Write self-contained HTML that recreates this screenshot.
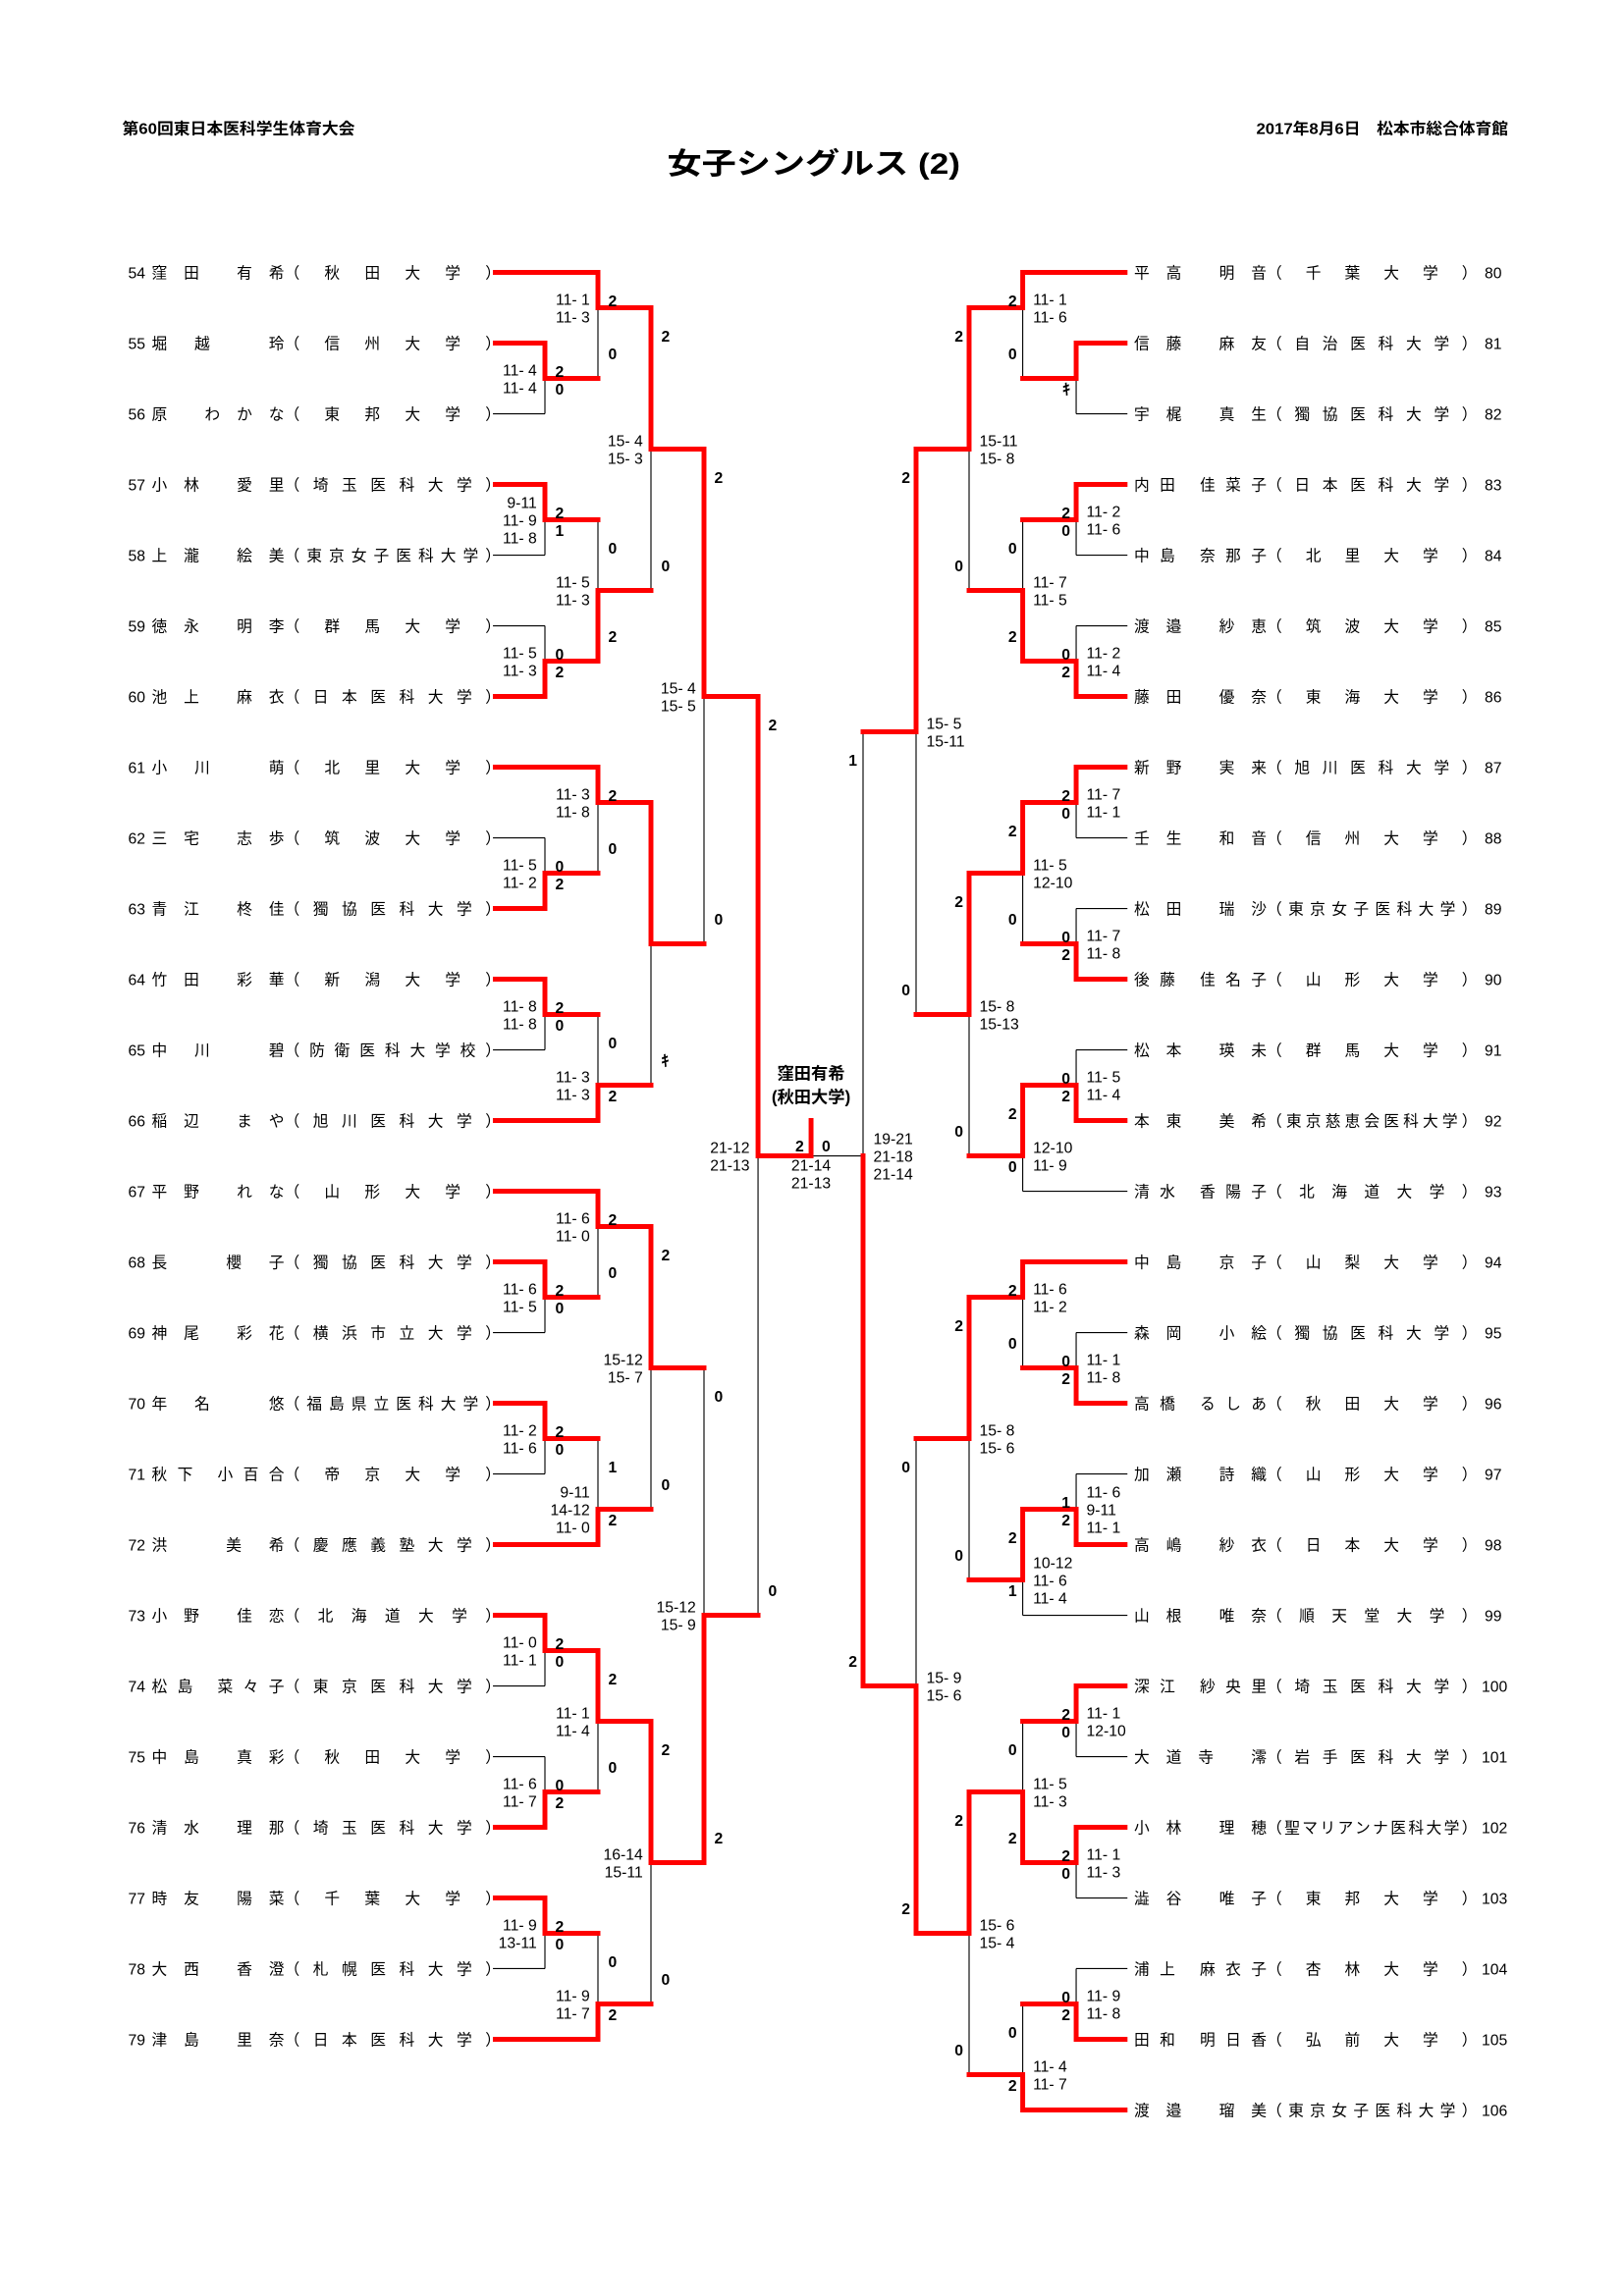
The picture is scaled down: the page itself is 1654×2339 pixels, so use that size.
<!DOCTYPE html>
<html><head><meta charset="utf-8">
<style>
html,body{margin:0;padding:0;background:#fff;}
svg{display:block;}
.n{font-family:"Liberation Sans","Noto Sans CJK JP",sans-serif;font-size:10.5px;fill:#000;}
.s{font-family:"Liberation Sans Narrow","Liberation Sans",sans-serif;font-size:10.5px;fill:#000;}
.c{font-family:"Liberation Sans Narrow","Liberation Sans",sans-serif;font-size:10.5px;font-weight:bold;fill:#000;}
.h{font-family:"Liberation Sans","Noto Sans CJK JP",sans-serif;font-weight:bold;fill:#000;}
.e{text-anchor:end;}
.m{text-anchor:middle;}
</style></head><body>
<svg width="1654" height="2339" viewBox="0 0 1102.67 1559.33" xmlns="http://www.w3.org/2000/svg">
<rect x="0" y="0" width="1102.67" height="1559.33" fill="#fff"/>
<text class="h" x="83" y="91" font-size="10.5" textLength="158" lengthAdjust="spacingAndGlyphs">第60回東日本医科学生体育大会</text>
<text class="h" x="853" y="91" font-size="10.5" textLength="171" lengthAdjust="spacingAndGlyphs">2017年8月6日　松本市総合体育館</text>
<text class="h" x="453" y="118" font-size="20" textLength="199" lengthAdjust="spacingAndGlyphs">女子シングルス (2)</text>

<!-- black lines -->
<path fill="none" stroke="#000" stroke-width="0.75" d="
M334.7 281H370M334.7 377H370M334.7 425H370M334.7 569H370M334.7 713H370M334.7 905H370M334.7 1001H370M334.7 1145H370M334.7 1193H370M334.7 1337H370
M370 257V281M406 209V257M370 353V377M370 425V449M406 353V401M442 305V401M370 569V593M406 545V593M370 689V713M406 689V737M442 641V737M478 473V641
M370 881V905M406 833V881M370 977V1001M406 977V1025M442 929V1025M370 1121V1145M370 1193V1217M406 1169V1217M370 1313V1337M406 1313V1361M442 1265V1361M478 929V1097M514.7 785V1097
M550.7 785H586
M765.5 281H730.7M765.5 377H730.7M765.5 425H730.7M765.5 569H730.7M765.5 617H730.7M765.5 713H730.7M765.5 809H694.4M765.5 905H730.7M765.5 1001H730.7M765.5 1097H694.4M765.5 1193H730.7M765.5 1289H730.7M765.5 1337H730.7
M730.7 257V281M694.4 209V257M730.7 353V377M730.7 425V449M694.4 353V401M658 305V401M730.7 545V569M730.7 617V641M694.4 593V641M730.7 713V737M694.4 785V809M658 689V785M622 497V689
M730.7 905V929M694.4 881V929M730.7 1001V1025M694.4 1073V1097M658 977V1073M730.7 1169V1193M730.7 1265V1289M694.4 1169V1217M730.7 1337V1361M694.4 1361V1409M658 1313V1409M622 977V1145M586 497V785
"/>

<!-- red lines -->
<path fill="none" stroke="#ff0000" stroke-width="3.3" stroke-linecap="square" stroke-linejoin="miter" d="
M336.3 185H406M336.3 233H370M336.3 329H370M336.3 473H370M336.3 521H406M336.3 617H370M336.3 665H370M336.3 761H406M336.3 809H406M336.3 857H370M336.3 953H370M336.3 1049H406M336.3 1097H370M336.3 1241H370M336.3 1289H370M336.3 1385H406
M370 233V257H406M406 185V209H442M370 329V353H406M370 473V449H406M406 449V401H442M442 209V305H478M370 617V593H406M406 521V545H442M370 665V689H406M406 761V737H442M442 545V641H478M478 305V473H514.7
M370 857V881H406M406 809V833H442M370 953V977H406M406 1049V1025H442M442 833V929H478M370 1097V1121H406M370 1241V1217H406M406 1121V1169H442M370 1289V1313H406M406 1385V1361H442M442 1169V1265H478M478 1265V1097H514.7
M514.7 473V785H550.7V761
M763.9 185H694.4M763.9 233H730.7M763.9 329H730.7M763.9 473H730.7M763.9 521H730.7M763.9 665H730.7M763.9 761H730.7M763.9 857H694.4M763.9 953H730.7M763.9 1049H730.7M763.9 1145H730.7M763.9 1241H730.7M763.9 1385H730.7M763.9 1433H694.4
M730.7 233V257H694.4M694.4 185V209H658M730.7 329V353H694.4M730.7 473V449H694.4M694.4 449V401H658M658 209V305H622M730.7 521V545H694.4M730.7 665V641H694.4M694.4 545V593H658M730.7 761V737H694.4M694.4 737V785H658M658 593V689H622M622 305V497H586
M730.7 953V929H694.4M694.4 857V881H658M730.7 1049V1025H694.4M694.4 1025V1073H658M658 881V977H622M730.7 1145V1169H694.4M730.7 1241V1265H694.4M694.4 1265V1217H658M730.7 1385V1361H694.4M694.4 1433V1409H658M658 1217V1313H622M622 1313V1145H586M586 1145V785
"/>

<!-- left names -->
<g class="n">
<text x="87" y="189">54</text><text x="103" y="189" textLength="90" lengthAdjust="spacing">窪田 有希</text><text x="193" y="189" textLength="147" lengthAdjust="spacing">（秋田大学）</text>
<text x="87" y="237">55</text><text x="103" y="237" textLength="90" lengthAdjust="spacing">堀越 玲</text><text x="193" y="237" textLength="147" lengthAdjust="spacing">（信州大学）</text>
<text x="87" y="285">56</text><text x="103" y="285" textLength="90" lengthAdjust="spacing">原 わかな</text><text x="193" y="285" textLength="147" lengthAdjust="spacing">（東邦大学）</text>
<text x="87" y="333">57</text><text x="103" y="333" textLength="90" lengthAdjust="spacing">小林 愛里</text><text x="193" y="333" textLength="147" lengthAdjust="spacing">（埼玉医科大学）</text>
<text x="87" y="381">58</text><text x="103" y="381" textLength="90" lengthAdjust="spacing">上瀧 絵美</text><text x="193" y="381" textLength="147" lengthAdjust="spacing">（東京女子医科大学）</text>
<text x="87" y="429">59</text><text x="103" y="429" textLength="90" lengthAdjust="spacing">徳永 明李</text><text x="193" y="429" textLength="147" lengthAdjust="spacing">（群馬大学）</text>
<text x="87" y="477">60</text><text x="103" y="477" textLength="90" lengthAdjust="spacing">池上 麻衣</text><text x="193" y="477" textLength="147" lengthAdjust="spacing">（日本医科大学）</text>
<text x="87" y="525">61</text><text x="103" y="525" textLength="90" lengthAdjust="spacing">小川 萌</text><text x="193" y="525" textLength="147" lengthAdjust="spacing">（北里大学）</text>
<text x="87" y="573">62</text><text x="103" y="573" textLength="90" lengthAdjust="spacing">三宅 志歩</text><text x="193" y="573" textLength="147" lengthAdjust="spacing">（筑波大学）</text>
<text x="87" y="621">63</text><text x="103" y="621" textLength="90" lengthAdjust="spacing">青江 柊佳</text><text x="193" y="621" textLength="147" lengthAdjust="spacing">（獨協医科大学）</text>
<text x="87" y="669">64</text><text x="103" y="669" textLength="90" lengthAdjust="spacing">竹田 彩華</text><text x="193" y="669" textLength="147" lengthAdjust="spacing">（新潟大学）</text>
<text x="87" y="717">65</text><text x="103" y="717" textLength="90" lengthAdjust="spacing">中川 碧</text><text x="193" y="717" textLength="147" lengthAdjust="spacing">（防衛医科大学校）</text>
<text x="87" y="765">66</text><text x="103" y="765" textLength="90" lengthAdjust="spacing">稲辺 まや</text><text x="193" y="765" textLength="147" lengthAdjust="spacing">（旭川医科大学）</text>
<text x="87" y="813">67</text><text x="103" y="813" textLength="90" lengthAdjust="spacing">平野 れな</text><text x="193" y="813" textLength="147" lengthAdjust="spacing">（山形大学）</text>
<text x="87" y="861">68</text><text x="103" y="861" textLength="90" lengthAdjust="spacing">長 櫻子</text><text x="193" y="861" textLength="147" lengthAdjust="spacing">（獨協医科大学）</text>
<text x="87" y="909">69</text><text x="103" y="909" textLength="90" lengthAdjust="spacing">神尾 彩花</text><text x="193" y="909" textLength="147" lengthAdjust="spacing">（横浜市立大学）</text>
<text x="87" y="957">70</text><text x="103" y="957" textLength="90" lengthAdjust="spacing">年名 悠</text><text x="193" y="957" textLength="147" lengthAdjust="spacing">（福島県立医科大学）</text>
<text x="87" y="1005">71</text><text x="103" y="1005" textLength="90" lengthAdjust="spacing">秋下 小百合</text><text x="193" y="1005" textLength="147" lengthAdjust="spacing">（帝京大学）</text>
<text x="87" y="1053">72</text><text x="103" y="1053" textLength="90" lengthAdjust="spacing">洪 美希</text><text x="193" y="1053" textLength="147" lengthAdjust="spacing">（慶應義塾大学）</text>
<text x="87" y="1101">73</text><text x="103" y="1101" textLength="90" lengthAdjust="spacing">小野 佳恋</text><text x="193" y="1101" textLength="147" lengthAdjust="spacing">（北海道大学）</text>
<text x="87" y="1149">74</text><text x="103" y="1149" textLength="90" lengthAdjust="spacing">松島 菜々子</text><text x="193" y="1149" textLength="147" lengthAdjust="spacing">（東京医科大学）</text>
<text x="87" y="1197">75</text><text x="103" y="1197" textLength="90" lengthAdjust="spacing">中島 真彩</text><text x="193" y="1197" textLength="147" lengthAdjust="spacing">（秋田大学）</text>
<text x="87" y="1245">76</text><text x="103" y="1245" textLength="90" lengthAdjust="spacing">清水 理那</text><text x="193" y="1245" textLength="147" lengthAdjust="spacing">（埼玉医科大学）</text>
<text x="87" y="1293">77</text><text x="103" y="1293" textLength="90" lengthAdjust="spacing">時友 陽菜</text><text x="193" y="1293" textLength="147" lengthAdjust="spacing">（千葉大学）</text>
<text x="87" y="1341">78</text><text x="103" y="1341" textLength="90" lengthAdjust="spacing">大西 香澄</text><text x="193" y="1341" textLength="147" lengthAdjust="spacing">（札幌医科大学）</text>
<text x="87" y="1389">79</text><text x="103" y="1389" textLength="90" lengthAdjust="spacing">津島 里奈</text><text x="193" y="1389" textLength="147" lengthAdjust="spacing">（日本医科大学）</text>
</g>

<!-- right names -->
<g class="n">
<text x="770" y="189" textLength="90" lengthAdjust="spacing">平高 明音</text><text x="860" y="189" textLength="143" lengthAdjust="spacing">（千葉大学）</text><text x="1008" y="189">80</text>
<text x="770" y="237" textLength="90" lengthAdjust="spacing">信藤 麻友</text><text x="860" y="237" textLength="143" lengthAdjust="spacing">（自治医科大学）</text><text x="1008" y="237">81</text>
<text x="770" y="285" textLength="90" lengthAdjust="spacing">宇梶 真生</text><text x="860" y="285" textLength="143" lengthAdjust="spacing">（獨協医科大学）</text><text x="1008" y="285">82</text>
<text x="770" y="333" textLength="90" lengthAdjust="spacing">内田 佳菜子</text><text x="860" y="333" textLength="143" lengthAdjust="spacing">（日本医科大学）</text><text x="1008" y="333">83</text>
<text x="770" y="381" textLength="90" lengthAdjust="spacing">中島 奈那子</text><text x="860" y="381" textLength="143" lengthAdjust="spacing">（北里大学）</text><text x="1008" y="381">84</text>
<text x="770" y="429" textLength="90" lengthAdjust="spacing">渡邉 紗恵</text><text x="860" y="429" textLength="143" lengthAdjust="spacing">（筑波大学）</text><text x="1008" y="429">85</text>
<text x="770" y="477" textLength="90" lengthAdjust="spacing">藤田 優奈</text><text x="860" y="477" textLength="143" lengthAdjust="spacing">（東海大学）</text><text x="1008" y="477">86</text>
<text x="770" y="525" textLength="90" lengthAdjust="spacing">新野 実来</text><text x="860" y="525" textLength="143" lengthAdjust="spacing">（旭川医科大学）</text><text x="1008" y="525">87</text>
<text x="770" y="573" textLength="90" lengthAdjust="spacing">壬生 和音</text><text x="860" y="573" textLength="143" lengthAdjust="spacing">（信州大学）</text><text x="1008" y="573">88</text>
<text x="770" y="621" textLength="90" lengthAdjust="spacing">松田 瑞沙</text><text x="860" y="621" textLength="143" lengthAdjust="spacing">（東京女子医科大学）</text><text x="1008" y="621">89</text>
<text x="770" y="669" textLength="90" lengthAdjust="spacing">後藤 佳名子</text><text x="860" y="669" textLength="143" lengthAdjust="spacing">（山形大学）</text><text x="1008" y="669">90</text>
<text x="770" y="717" textLength="90" lengthAdjust="spacing">松本 瑛未</text><text x="860" y="717" textLength="143" lengthAdjust="spacing">（群馬大学）</text><text x="1008" y="717">91</text>
<text x="770" y="765" textLength="90" lengthAdjust="spacing">本東 美希</text><text x="860" y="765" textLength="143" lengthAdjust="spacing">（東京慈恵会医科大学）</text><text x="1008" y="765">92</text>
<text x="770" y="813" textLength="90" lengthAdjust="spacing">清水 香陽子</text><text x="860" y="813" textLength="143" lengthAdjust="spacing">（北海道大学）</text><text x="1008" y="813">93</text>
<text x="770" y="861" textLength="90" lengthAdjust="spacing">中島 京子</text><text x="860" y="861" textLength="143" lengthAdjust="spacing">（山梨大学）</text><text x="1008" y="861">94</text>
<text x="770" y="909" textLength="90" lengthAdjust="spacing">森岡 小絵</text><text x="860" y="909" textLength="143" lengthAdjust="spacing">（獨協医科大学）</text><text x="1008" y="909">95</text>
<text x="770" y="957" textLength="90" lengthAdjust="spacing">高橋 るしあ</text><text x="860" y="957" textLength="143" lengthAdjust="spacing">（秋田大学）</text><text x="1008" y="957">96</text>
<text x="770" y="1005" textLength="90" lengthAdjust="spacing">加瀬 詩織</text><text x="860" y="1005" textLength="143" lengthAdjust="spacing">（山形大学）</text><text x="1008" y="1005">97</text>
<text x="770" y="1053" textLength="90" lengthAdjust="spacing">高嶋 紗衣</text><text x="860" y="1053" textLength="143" lengthAdjust="spacing">（日本大学）</text><text x="1008" y="1053">98</text>
<text x="770" y="1101" textLength="90" lengthAdjust="spacing">山根 唯奈</text><text x="860" y="1101" textLength="143" lengthAdjust="spacing">（順天堂大学）</text><text x="1008" y="1101">99</text>
<text x="770" y="1149" textLength="90" lengthAdjust="spacing">深江 紗央里</text><text x="860" y="1149" textLength="143" lengthAdjust="spacing">（埼玉医科大学）</text><text x="1006" y="1149">100</text>
<text x="770" y="1197" textLength="90" lengthAdjust="spacing">大道寺 澪</text><text x="860" y="1197" textLength="143" lengthAdjust="spacing">（岩手医科大学）</text><text x="1006" y="1197">101</text>
<text x="770" y="1245" textLength="90" lengthAdjust="spacing">小林 理穂</text><text x="860" y="1245" textLength="143" lengthAdjust="spacing">（聖マリアンナ医科大学）</text><text x="1006" y="1245">102</text>
<text x="770" y="1293" textLength="90" lengthAdjust="spacing">澁谷 唯子</text><text x="860" y="1293" textLength="143" lengthAdjust="spacing">（東邦大学）</text><text x="1006" y="1293">103</text>
<text x="770" y="1341" textLength="90" lengthAdjust="spacing">浦上 麻衣子</text><text x="860" y="1341" textLength="143" lengthAdjust="spacing">（杏林大学）</text><text x="1006" y="1341">104</text>
<text x="770" y="1389" textLength="90" lengthAdjust="spacing">田和 明日香</text><text x="860" y="1389" textLength="143" lengthAdjust="spacing">（弘前大学）</text><text x="1006" y="1389">105</text>
<text x="770" y="1437" textLength="90" lengthAdjust="spacing">渡邉 瑠美</text><text x="860" y="1437" textLength="143" lengthAdjust="spacing">（東京女子医科大学）</text><text x="1006" y="1437">106</text>
</g>

<!-- left game scores -->
<g class="s e">
<text x="364.5" y="255">11- 4</text><text x="364.5" y="267">11- 4</text>
<text x="400.5" y="207">11- 1</text><text x="400.5" y="219">11- 3</text>
<text x="364.5" y="345">9-11</text><text x="364.5" y="357">11- 9</text><text x="364.5" y="369">11- 8</text>
<text x="364.5" y="447">11- 5</text><text x="364.5" y="459">11- 3</text>
<text x="400.5" y="399">11- 5</text><text x="400.5" y="411">11- 3</text>
<text x="436.5" y="303">15- 4</text><text x="436.5" y="315">15- 3</text>
<text x="364.5" y="591">11- 5</text><text x="364.5" y="603">11- 2</text>
<text x="400.5" y="543">11- 3</text><text x="400.5" y="555">11- 8</text>
<text x="364.5" y="687">11- 8</text><text x="364.5" y="699">11- 8</text>
<text x="400.5" y="735">11- 3</text><text x="400.5" y="747">11- 3</text>
<text x="472.5" y="471">15- 4</text><text x="472.5" y="483">15- 5</text>
<text x="364.5" y="879">11- 6</text><text x="364.5" y="891">11- 5</text>
<text x="400.5" y="831">11- 6</text><text x="400.5" y="843">11- 0</text>
<text x="364.5" y="975">11- 2</text><text x="364.5" y="987">11- 6</text>
<text x="400.5" y="1017">9-11</text><text x="400.5" y="1029">14-12</text><text x="400.5" y="1041">11- 0</text>
<text x="436.5" y="927">15-12</text><text x="436.5" y="939">15- 7</text>
<text x="364.5" y="1119">11- 0</text><text x="364.5" y="1131">11- 1</text>
<text x="364.5" y="1215">11- 6</text><text x="364.5" y="1227">11- 7</text>
<text x="400.5" y="1167">11- 1</text><text x="400.5" y="1179">11- 4</text>
<text x="364.5" y="1311">11- 9</text><text x="364.5" y="1323">13-11</text>
<text x="400.5" y="1359">11- 9</text><text x="400.5" y="1371">11- 7</text>
<text x="436.5" y="1263">16-14</text><text x="436.5" y="1275">15-11</text>
<text x="472.5" y="1095">15-12</text><text x="472.5" y="1107">15- 9</text>
<text x="509" y="783">21-12</text><text x="509" y="795">21-13</text>
</g>
<!-- left counts -->
<g class="c">
<text x="377" y="256">2</text><text x="377" y="268">0</text>
<text x="413" y="208">2</text><text x="413" y="244">0</text>
<text x="377" y="352">2</text><text x="377" y="364">1</text>
<text x="377" y="448">0</text><text x="377" y="460">2</text>
<text x="413" y="376">0</text><text x="413" y="436">2</text>
<text x="449" y="232">2</text><text x="449" y="388">0</text>
<text x="377" y="592">0</text><text x="377" y="604">2</text>
<text x="413" y="544">2</text><text x="413" y="580">0</text>
<text x="377" y="688">2</text><text x="377" y="700">0</text>
<text x="413" y="712">0</text><text x="413" y="748">2</text>
<text x="449" y="724">ｷ</text>
<text x="485" y="328">2</text><text x="485" y="628">0</text>
<text x="377" y="880">2</text><text x="377" y="892">0</text>
<text x="413" y="832">2</text><text x="413" y="868">0</text>
<text x="377" y="976">2</text><text x="377" y="988">0</text>
<text x="413" y="1000">1</text><text x="413" y="1036">2</text>
<text x="449" y="856">2</text><text x="449" y="1012">0</text>
<text x="377" y="1120">2</text><text x="377" y="1132">0</text>
<text x="377" y="1216">0</text><text x="377" y="1228">2</text>
<text x="413" y="1144">2</text><text x="413" y="1204">0</text>
<text x="377" y="1312">2</text><text x="377" y="1324">0</text>
<text x="413" y="1336">0</text><text x="413" y="1372">2</text>
<text x="449" y="1192">2</text><text x="449" y="1348">0</text>
<text x="485" y="952">0</text><text x="485" y="1252">2</text>
<text x="521.7" y="496">2</text><text x="521.7" y="1084">0</text>
</g>

<!-- right game scores -->
<g class="s">
<text x="701.4" y="207">11- 1</text><text x="701.4" y="219">11- 6</text>
<text x="737.7" y="351">11- 2</text><text x="737.7" y="363">11- 6</text>
<text x="737.7" y="447">11- 2</text><text x="737.7" y="459">11- 4</text>
<text x="701.4" y="399">11- 7</text><text x="701.4" y="411">11- 5</text>
<text x="665" y="303">15-11</text><text x="665" y="315">15- 8</text>
<text x="737.7" y="543">11- 7</text><text x="737.7" y="555">11- 1</text>
<text x="737.7" y="639">11- 7</text><text x="737.7" y="651">11- 8</text>
<text x="701.4" y="591">11- 5</text><text x="701.4" y="603">12-10</text>
<text x="737.7" y="735">11- 5</text><text x="737.7" y="747">11- 4</text>
<text x="701.4" y="783">12-10</text><text x="701.4" y="795">11- 9</text>
<text x="665" y="687">15- 8</text><text x="665" y="699">15-13</text>
<text x="629" y="495">15- 5</text><text x="629" y="507">15-11</text>
<text x="737.7" y="927">11- 1</text><text x="737.7" y="939">11- 8</text>
<text x="701.4" y="879">11- 6</text><text x="701.4" y="891">11- 2</text>
<text x="737.7" y="1017">11- 6</text><text x="737.7" y="1029">9-11</text><text x="737.7" y="1041">11- 1</text>
<text x="701.4" y="1065">10-12</text><text x="701.4" y="1077">11- 6</text><text x="701.4" y="1089">11- 4</text>
<text x="665" y="975">15- 8</text><text x="665" y="987">15- 6</text>
<text x="737.7" y="1167">11- 1</text><text x="737.7" y="1179">12-10</text>
<text x="737.7" y="1263">11- 1</text><text x="737.7" y="1275">11- 3</text>
<text x="701.4" y="1215">11- 5</text><text x="701.4" y="1227">11- 3</text>
<text x="737.7" y="1359">11- 9</text><text x="737.7" y="1371">11- 8</text>
<text x="701.4" y="1407">11- 4</text><text x="701.4" y="1419">11- 7</text>
<text x="665" y="1311">15- 6</text><text x="665" y="1323">15- 4</text>
<text x="629" y="1143">15- 9</text><text x="629" y="1155">15- 6</text>
<text x="593" y="777">19-21</text><text x="593" y="789">21-18</text><text x="593" y="801">21-14</text>
</g>
<!-- right counts -->
<g class="c e">
<text x="726.7" y="268">ｷ</text>
<text x="690.4" y="208">2</text><text x="690.4" y="244">0</text>
<text x="726.7" y="352">2</text><text x="726.7" y="364">0</text>
<text x="726.7" y="448">0</text><text x="726.7" y="460">2</text>
<text x="690.4" y="376">0</text><text x="690.4" y="436">2</text>
<text x="654" y="232">2</text><text x="654" y="388">0</text>
<text x="726.7" y="544">2</text><text x="726.7" y="556">0</text>
<text x="726.7" y="640">0</text><text x="726.7" y="652">2</text>
<text x="690.4" y="568">2</text><text x="690.4" y="628">0</text>
<text x="726.7" y="736">0</text><text x="726.7" y="748">2</text>
<text x="690.4" y="760">2</text><text x="690.4" y="796">0</text>
<text x="654" y="616">2</text><text x="654" y="772">0</text>
<text x="618" y="328">2</text><text x="618" y="676">0</text>
<text x="726.7" y="928">0</text><text x="726.7" y="940">2</text>
<text x="690.4" y="880">2</text><text x="690.4" y="916">0</text>
<text x="726.7" y="1024">1</text><text x="726.7" y="1036">2</text>
<text x="690.4" y="1048">2</text><text x="690.4" y="1084">1</text>
<text x="654" y="904">2</text><text x="654" y="1060">0</text>
<text x="726.7" y="1168">2</text><text x="726.7" y="1180">0</text>
<text x="726.7" y="1264">2</text><text x="726.7" y="1276">0</text>
<text x="690.4" y="1192">0</text><text x="690.4" y="1252">2</text>
<text x="726.7" y="1360">0</text><text x="726.7" y="1372">2</text>
<text x="690.4" y="1384">0</text><text x="690.4" y="1420">2</text>
<text x="654" y="1240">2</text><text x="654" y="1396">0</text>
<text x="618" y="1000">0</text><text x="618" y="1300">2</text>
<text x="582" y="520">1</text><text x="582" y="1132">2</text>
</g>

<!-- final -->
<text class="c" x="540" y="782">2</text>
<text class="c" x="558" y="782">0</text>
<text class="s m" x="550.7" y="795">21-14</text>
<text class="s m" x="550.7" y="807">21-13</text>
<text class="h m" x="550.7" y="733" font-size="11.5">窪田有希</text>
<text class="h m" x="550.7" y="749" font-size="11.5">(秋田大学)</text>
</svg>
</body></html>
